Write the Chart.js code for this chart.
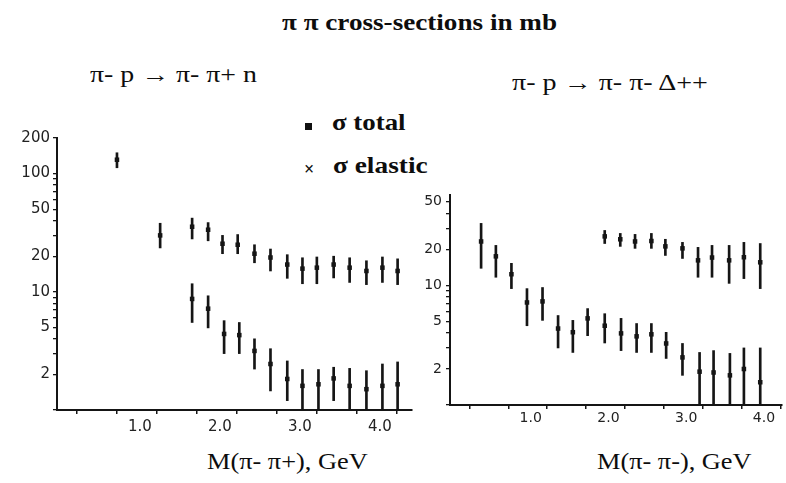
<!DOCTYPE html>
<html>
<head>
<meta charset="utf-8">
<script src="https://cdn.jsdelivr.net/npm/chart.js@4.4.1/dist/chart.umd.min.js"></script>
<style>
  html, body { margin:0; padding:0; background:#fff; }
  #wrap { position:relative; width:786px; height:483px; overflow:hidden; background:#fff; }
  canvas { position:absolute; }
  .t { position:absolute; font-family:"Liberation Serif","Times New Roman",serif; line-height:1; white-space:nowrap; color:#0d0d0d; transform-origin:0 0; }
  .b { font-weight:bold; }
  .sq { position:absolute; width:7px; height:7px; background:#111; }
</style>
</head>
<body>
<div id="wrap">
  <div class="t b" style="left:282px; top:11px; font-size:23px; transform:scaleX(1.18);">π π cross-sections in mb</div>
  <div class="t" style="left:90px; top:63px; font-size:23px; transform:scaleX(1.21);">π- p → π- π+ n</div>
  <div class="t" style="left:512px; top:71px; font-size:23px; transform:scaleX(1.22);">π- p → π- π- Δ++</div>
  <div class="sq" style="left:305px; top:123px;"></div>
  <div class="t b" style="left:332px; top:110px; font-size:24px; transform:scaleX(1.12);">σ total</div>
  <div class="t b" style="left:304px; top:160px; font-size:18px;">×</div>
  <div class="t b" style="left:333px; top:153px; font-size:24px; transform:scaleX(1.14);">σ elastic</div>
  <div class="t" style="left:207px; top:450px; font-size:23px; transform:scaleX(1.145);">M(π- π+), GeV</div>
  <div class="t" style="left:597px; top:450px; font-size:23px; transform:scaleX(1.145);">M(π- π-), GeV</div>
  <canvas id="c1" width="420" height="320" style="left:0px; top:120px;"></canvas>
  <canvas id="c2" width="386" height="260" style="left:400px; top:180px;"></canvas>
</div>
<script>
// ---- Left panel: pi- p -> pi- pi+ n ----
const leftTotalX  = [0.75,1.29,1.69,1.89,2.07,2.26,2.47,2.67,2.88,3.07,3.25,3.46,3.66,3.87,4.07,4.26];
const leftTotal   = [131,30,35.5,33.5,25.5,25,21,19.5,17,15.7,16,17,16,15,16,15];
const leftTotalLo = [112,23.5,28,27,21,21,17.6,15,13,11.7,11.7,13.1,12,11.5,12,11.5];
const leftTotalHi = [150,38,42,38.5,30,30.5,25,23,20.6,19.4,19.7,20,19.4,18.3,19.7,19];

const leftElX  = [1.69,1.89,2.09,2.28,2.47,2.67,2.88,3.07,3.27,3.46,3.66,3.87,4.07,4.26];
const leftEl   = [8.7,7.2,4.4,4.3,3.16,2.45,1.83,1.6,1.65,1.85,1.6,1.5,1.6,1.65];
const leftElLo = [5.5,4.95,3.0,3.0,2.22,1.45,1.2,1.0,1.0,1.2,1.0,1.0,1.0,1.0];
const leftElHi = [11.7,9.25,5.7,5.5,4.0,3.3,2.6,2.2,2.2,2.3,2.25,2.15,2.45,2.55];

// ---- Right panel: pi- p -> pi- pi- Delta++ ----
const rightTotalX  = [1.99,2.19,2.38,2.59,2.77,2.99,3.19,3.37,3.59,3.78,3.99];
const rightTotal   = [25.7,24.3,23.3,23.5,21.2,20.4,16.2,17.1,16.2,17.2,15.6];
const rightTotalLo = [22.4,21.2,20.4,20.4,17.8,16.8,11.7,11.7,10.4,11.4,9.4];
const rightTotalHi = [28.8,27.2,26.7,27.2,24.3,22.9,20.8,21.6,21.6,22.9,22.4];

const rightElX  = [0.40,0.59,0.79,0.99,1.19,1.39,1.58,1.77,1.99,2.2,2.4,2.59,2.78,2.99,3.21,3.39,3.6,3.78,3.99];
const rightEl   = [23.3,17.5,12.4,7.2,7.35,4.36,4.06,5.3,4.6,3.97,3.75,3.9,3.27,2.5,1.9,1.87,1.77,2.0,1.55];
const rightElLo = [13.9,11.7,9.4,4.6,5.1,3.0,2.75,3.8,3.3,2.85,2.75,2.75,2.45,1.77,1,1,1,1,1];
const rightElHi = [33,21.6,15.3,9.4,9.6,5.6,5.1,6.4,5.8,5.3,4.8,4.8,4.05,3.27,2.75,2.85,2.7,3.0,3.0];

// ---- Tick labels ----
const leftYLabels  = [2,5,10,20,50,100,200];
const rightYLabels = [2,5,10,20,50];
const xTickValues  = [0.5,1.0,1.5,2.0,2.5,3.0,3.5,4.0];
const xLabelValues = [1.0,2.0,3.0,4.0];

const INK = '#151515';

function pts(xs, ys) { return xs.map((x,i)=>({x:x, y:ys[i]})); }
function bars(xs, lo, hi) { return xs.map((x,i)=>({x:x, y:[lo[i], hi[i]]})); }

function logTicks(max) {
  const out = [];
  for (let d = 1; d <= max; d *= 10) {
    for (let m = 1; m <= 9; m++) { const v = m*d; if (v <= max + 1e-9) out.push(v); }
  }
  return out;
}

function makeChart(id, cfg) {
  const errDs = (data) => ({
    type:'bar', data:data, backgroundColor:INK, borderWidth:0,
    barThickness:2, grouped:false, order:2, parsing:true
  });
  const ptDs = (data) => ({
    type:'scatter', data:data, pointStyle:'rect', pointRadius:3.2,
    backgroundColor:INK, borderColor:INK, borderWidth:0, order:1
  });
  return new Chart(document.getElementById(id), {
    type:'scatter',
    data:{ datasets:[
      errDs(bars(cfg.tX, cfg.tLo, cfg.tHi)),
      errDs(bars(cfg.eX, cfg.eLo, cfg.eHi)),
      ptDs(pts(cfg.tX, cfg.t)),
      ptDs(pts(cfg.eX, cfg.e))
    ]},
    options:{
      responsive:false, animation:false, events:[],
      layout:{ padding:{ top:cfg.padTop, right:cfg.padRight, left:0, bottom:0 } },
      plugins:{ legend:{display:false}, tooltip:{enabled:false}, title:{display:false} },
      scales:{
        x:{
          type:'linear', min:0, max:cfg.xMax, offset:false,
          afterBuildTicks:(s)=>{ s.ticks = xTickValues.map(v=>({value:v})); },
          afterFit:(s)=>{ s.height = cfg.xAxisH; },
          ticks:{
            autoSkip:false, maxRotation:0, padding:cfg.xPad, color:'#222', labelOffset:3,
            font:{ family:'DejaVu Sans', size:cfg.xFont },
            callback:(v)=> xLabelValues.includes(v) ? v.toFixed(1) : ''
          },
          grid:{ drawOnChartArea:false, drawTicks:true, tickLength:4, color:INK, lineWidth:1.5 },
          border:{ display:true, color:INK, width:2 }
        },
        y:{
          type:'logarithmic', min:1, max:cfg.yMax,
          afterBuildTicks:(s)=>{ s.ticks = logTicks(cfg.yMax).map(v=>({value:v})); },
          afterFit:(s)=>{ s.width = cfg.yAxisW; },
          ticks:{
            autoSkip:false, padding:cfg.yPad, color:'#222',
            font:{ family:'DejaVu Sans', size:cfg.yFont },
            callback:(v)=> cfg.yLabels.includes(v) ? String(v) : ''
          },
          grid:{ drawOnChartArea:false, drawTicks:true, tickLength:4, color:INK, lineWidth:1.3 },
          border:{ display:true, color:INK, width:2 }
        }
      }
    }
  });
}

makeChart('c1', {
  tX:leftTotalX, t:leftTotal, tLo:leftTotalLo, tHi:leftTotalHi,
  eX:leftElX, e:leftEl, eLo:leftElLo, eHi:leftElHi,
  xMax:4.44, yMax:200, yLabels:leftYLabels,
  padTop:18, padRight:8, xAxisH:30, yAxisW:57,
  xPad:4, yPad:3, xFont:15, yFont:15
});

makeChart('c2', {
  tX:rightTotalX, t:rightTotal, tLo:rightTotalLo, tHi:rightTotalHi,
  eX:rightElX, e:rightEl, eLo:rightElLo, eHi:rightElHi,
  xMax:4.27, yMax:57, yLabels:rightYLabels,
  padTop:15, padRight:3, xAxisH:35, yAxisW:50,
  xPad:1, yPad:4, xFont:14, yFont:14
});
</script>
</body>
</html>
